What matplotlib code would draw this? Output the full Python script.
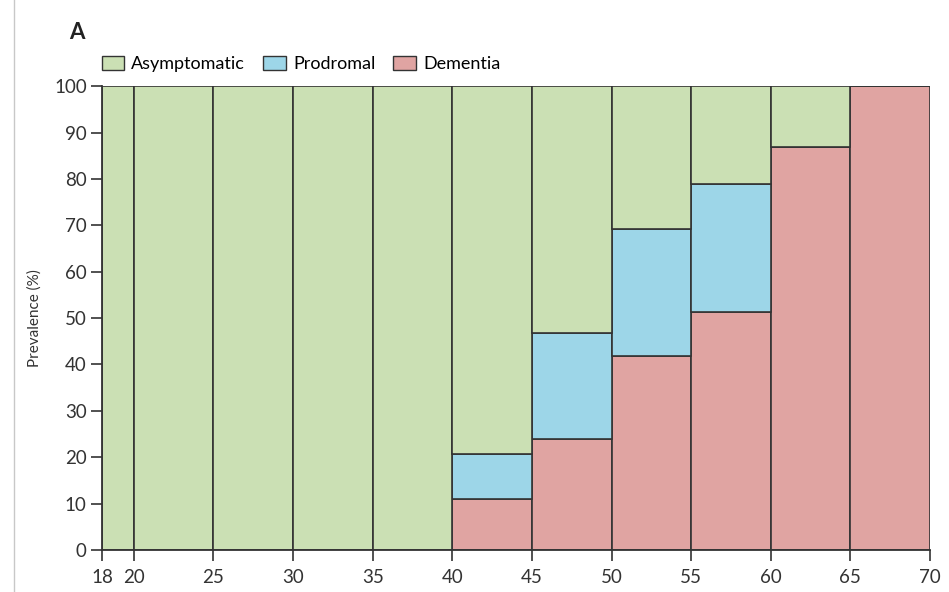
import matplotlib.pyplot as plt
from matplotlib.lines import Line2D
from matplotlib.patches import Patch

plt.rcParams['font.family'] = ['Lato', 'DejaVu Sans']

# age bins (years) and prevalence per stage (%)
edges = [18, 20, 25, 30, 35, 40, 45, 50, 55, 60, 65, 70]
dementia = [0, 0, 0, 0, 0, 11.0, 23.9, 41.8, 51.3, 86.9, 100]
prodromal = [0, 0, 0, 0, 0, 9.7, 22.9, 27.4, 27.6, 0, 0]
asymptomatic = [100, 100, 100, 100, 100, 79.3, 53.2, 30.8, 21.1, 13.1, 0]
x_ticks = [18, 20, 25, 30, 35, 40, 45, 50, 55, 60, 65, 70]
y_ticks = list(range(0, 101, 10))

c_asym = '#cbe0b4'
c_prod = '#9dd6e8'
c_dem = '#e0a4a2'
edge = '#333333'

fig = plt.figure(figsize=(9.49, 5.92), dpi=100)
ax = fig.add_axes([0.1075, 0.071, 0.8725, 0.7835])

lefts = edges[:-1]
widths = [b - a for a, b in zip(edges[:-1], edges[1:])]
bottom2 = [d + p for d, p in zip(dementia, prodromal)]

ax.bar(lefts, dementia, width=widths, align='edge', color=c_dem,
       edgecolor=edge, linewidth=1.2)
ax.bar(lefts, prodromal, width=widths, bottom=dementia, align='edge',
       color=c_prod, edgecolor=edge, linewidth=1.2)
ax.bar(lefts, asymptomatic, width=widths, bottom=bottom2, align='edge',
       color=c_asym, edgecolor=edge, linewidth=1.2)

ax.set_xlim(18, 70)
ax.set_ylim(0, 100)
ax.set_xticks(x_ticks)
ax.set_yticks(y_ticks)
ax.tick_params(axis='both', direction='out', length=8, width=1.2,
               color=edge, labelsize=13.5, labelcolor='#333333')
ax.tick_params(axis='x', pad=6)
ax.tick_params(axis='y', pad=3)
for side in ['top', 'right']:
    ax.spines[side].set_visible(False)
for side in ['left', 'bottom']:
    ax.spines[side].set_linewidth(1.3)
    ax.spines[side].set_color(edge)
ax.set_ylabel('Prevalence (%)', fontsize=11, color='#333333', labelpad=9)

handles = [Patch(facecolor=c_asym, edgecolor=edge, label='Asymptomatic'),
           Patch(facecolor=c_prod, edgecolor=edge, label='Prodromal'),
           Patch(facecolor=c_dem, edgecolor=edge, label='Dementia')]
fig.legend(handles=handles, ncol=3, frameon=False, fontsize=13,
           loc='lower left', bbox_to_anchor=(0.107, 0.878),
           handlelength=1.25, handleheight=0.9, handletextpad=0.4,
           columnspacing=1.0, borderaxespad=0, borderpad=0)

fig.text(0.073, 0.945, 'A', fontsize=16, fontweight='bold',
         color='#222222', va='center')

# thin page rule on the left
fig.add_artist(Line2D([14 / 949, 14 / 949], [0, 1], color='#c8c8c8',
                      linewidth=1))

fig.savefig('out.png', dpi=100)
